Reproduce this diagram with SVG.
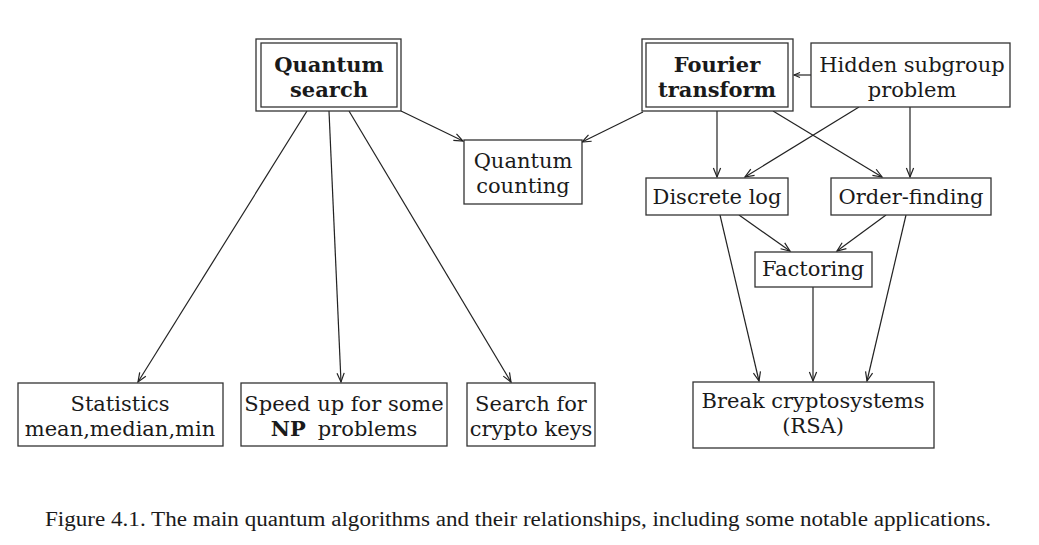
<svg xmlns="http://www.w3.org/2000/svg" width="1039" height="545" viewBox="0 0 1039 545">
<style>
  .box { fill: #fff; stroke: #333; stroke-width: 1.3; }
  .t { font-family: "DejaVu Serif", "Liberation Serif", serif; font-size: 21px; fill: #1a1a1a; text-anchor: middle; }
  .b { font-weight: bold; font-size: 21px; }
  .edge { fill: none; stroke: #222; stroke-width: 1.2; marker-end: url(#arr); }
  .cap { font-family: "Liberation Serif", "Times New Roman", serif; font-size: 20px; fill: #1a1a1a; }
</style>
<defs>
  <marker id="arr" viewBox="-10 -5 12 10" refX="0" refY="0" markerWidth="12" markerHeight="10" markerUnits="userSpaceOnUse" orient="auto">
    <path d="M-9,-3.6 L0,0 L-9,3.6" fill="none" stroke="#222" stroke-width="1.2"/>
  </marker>
  <marker id="arrs" viewBox="-8 -4 10 8" refX="0" refY="0" markerWidth="10" markerHeight="8" markerUnits="userSpaceOnUse" orient="auto">
    <path d="M-6,-2.5 L0,0 L-6,2.5" fill="none" stroke="#222" stroke-width="1.1"/>
  </marker>
</defs>
<rect width="1039" height="545" fill="#fff"/>

<g id="connectors">
  <line class="edge" x1="401" y1="111" x2="463" y2="141"/>
  <line class="edge" x1="643" y1="112" x2="582" y2="142"/>
  <line x1="811" y1="75" x2="794" y2="75" stroke="#222" stroke-width="1.2" marker-end="url(#arrs)"/>
  <line class="edge" x1="307" y1="111" x2="138" y2="382"/>
  <line class="edge" x1="329" y1="111" x2="341" y2="382"/>
  <line class="edge" x1="349" y1="111" x2="511" y2="382"/>
  <line class="edge" x1="717" y1="111" x2="717" y2="177"/>
  <line class="edge" x1="859" y1="107" x2="745" y2="177"/>
  <line class="edge" x1="773" y1="111" x2="882" y2="177"/>
  <line class="edge" x1="910" y1="107" x2="910" y2="177"/>
  <line class="edge" x1="739" y1="215" x2="790" y2="251"/>
  <line class="edge" x1="886" y1="215" x2="837" y2="251"/>
  <line class="edge" x1="720" y1="215" x2="759" y2="381"/>
  <line class="edge" x1="906" y1="215" x2="867" y2="381"/>
  <line class="edge" x1="813" y1="287" x2="813" y2="381"/>
</g>

<g id="quantum-search">
  <rect class="box" x="256" y="39" width="145" height="72"/>
  <rect class="box" x="261" y="43" width="136" height="64"/>
  <text class="t b" x="329" y="72">Quantum</text>
  <text class="t b" x="329" y="97">search</text>
</g>

<g id="fourier-transform">
  <rect class="box" x="642" y="39" width="151" height="72"/>
  <rect class="box" x="646" y="43" width="142" height="64"/>
  <text class="t b" x="717" y="72">Fourier</text>
  <text class="t b" x="717" y="97">transform</text>
</g>

<g id="hidden-subgroup">
  <rect class="box" x="811" y="43" width="199" height="64"/>
  <text class="t" x="912" y="72">Hidden subgroup</text>
  <text class="t" x="912" y="97">problem</text>
</g>

<g id="quantum-counting">
  <rect class="box" x="464" y="140" width="118" height="64"/>
  <text class="t" x="523" y="168">Quantum</text>
  <text class="t" x="523" y="193">counting</text>
</g>

<g id="discrete-log">
  <rect class="box" x="646" y="178" width="142" height="37"/>
  <text class="t" x="717" y="204">Discrete log</text>
</g>

<g id="order-finding">
  <rect class="box" x="831" y="178" width="160" height="37"/>
  <text class="t" x="911" y="204">Order-finding</text>
</g>

<g id="factoring">
  <rect class="box" x="755" y="252" width="117" height="35"/>
  <text class="t" x="813" y="276">Factoring</text>
</g>

<g id="break-crypto">
  <rect class="box" x="693" y="382" width="241" height="66"/>
  <text class="t" x="813" y="408">Break cryptosystems</text>
  <text class="t" x="813" y="433">(RSA)</text>
</g>

<g id="statistics">
  <rect class="box" x="18" y="383" width="205" height="63"/>
  <text class="t" x="120" y="411">Statistics</text>
  <text class="t" x="120" y="436">mean,median,min</text>
</g>

<g id="speed-up">
  <rect class="box" x="241" y="383" width="206" height="63"/>
  <text class="t" x="344" y="411">Speed up for some</text>
  <text class="t" x="344" y="436"><tspan font-weight="bold">NP</tspan><tspan dx="12">problems</tspan></text>
</g>

<g id="search-crypto">
  <rect class="box" x="467" y="383" width="128" height="63"/>
  <text class="t" x="531" y="411">Search for</text>
  <text class="t" x="531" y="436">crypto keys</text>
</g>

<text class="cap" x="45" y="526" textLength="946" lengthAdjust="spacingAndGlyphs">Figure 4.1. The main quantum algorithms and their relationships, including some notable applications.</text>
</svg>
